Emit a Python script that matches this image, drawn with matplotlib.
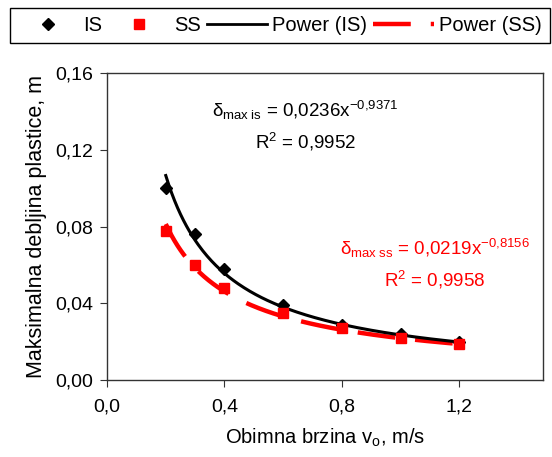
import numpy as np
import matplotlib
matplotlib.use("Agg")
import matplotlib.pyplot as plt
from matplotlib.lines import Line2D

plt.rcParams['font.family'] = ['Liberation Sans', 'DejaVu Sans']
plt.rcParams['mathtext.fontset'] = 'custom'
plt.rcParams['mathtext.rm'] = 'Liberation Sans'
plt.rcParams['mathtext.it'] = 'Liberation Sans'

# measured points
speed = [0.2, 0.3, 0.4, 0.6, 0.8, 1.0, 1.2]
thick_is = [0.100, 0.076, 0.058, 0.039, 0.029, 0.024, 0.020]
thick_ss = [0.078, 0.060, 0.048, 0.035, 0.027, 0.022, 0.019]

# power trendline coefficients (as printed on the chart)
coef_is, exp_is = 0.0236, -0.9371
coef_ss, exp_ss = 0.0219, -0.8156

xtick_vals = [0.0, 0.4, 0.8, 1.2]
ytick_vals = [0.00, 0.04, 0.08, 0.12, 0.16]

RED = '#ff0000'
SS_DASH = (0, (8.5, 4.5))

fig = plt.figure(figsize=(5.52, 4.57), dpi=100)
ax = fig.add_axes([0.194, 0.168, 0.790, 0.672])

xs = np.linspace(min(speed), max(speed), 200)
ax.plot(xs, coef_is * xs ** exp_is, color='black', lw=2.2, zorder=3)
ax.plot(xs, coef_ss * xs ** exp_ss, color=RED, lw=3.2, linestyle=SS_DASH, zorder=2)
ax.plot(speed, thick_is, linestyle='none', marker='D', ms=6.5, color='black', zorder=4)
ax.plot(speed, thick_ss, linestyle='none', marker='s', ms=6.5, color=RED, zorder=4)

ax.set_xlim(0, 1.486)
ax.set_ylim(0, 0.16)
ax.set_xticks(xtick_vals)
ax.set_yticks(ytick_vals)
ax.set_xticklabels([f"{v:.1f}".replace('.', ',') for v in xtick_vals])
ax.set_yticklabels([f"{v:.2f}".replace('.', ',') for v in ytick_vals])
ax.tick_params(direction='out', length=5, labelsize=14, color='#333333')
ax.tick_params(axis='x', pad=8)
ax.tick_params(axis='y', pad=5)
for s in ax.spines.values():
    s.set_color('#333333')
    s.set_linewidth(1.0)

ax.set_xlabel(r'Obimna brzina v$_{\mathrm{o}}$, m/s', fontsize=14.5, labelpad=8)
ax.set_ylabel('Maksimalna debljina plastice, m', fontsize=15.5, labelpad=6)

ax.text(0.675, 0.1407, r'$\delta_{\mathrm{max\ is}}$ = 0,0236x$^{\mathrm{-0{,}9371}}$',
        ha='center', va='center', fontsize=13.5, color='black')
ax.text(0.675, 0.124, r'R$^{2}$ = 0,9952', ha='center', va='center', fontsize=13.5, color='black')
ax.text(1.118, 0.0688, r'$\delta_{\mathrm{max\ ss}}$ = 0,0219x$^{\mathrm{-0{,}8156}}$',
        ha='center', va='center', fontsize=13.5, color=RED)
ax.text(1.118, 0.052, r'R$^{2}$ = 0,9958', ha='center', va='center', fontsize=13.5, color=RED)

handles = [
    Line2D([], [], linestyle='none', marker='D', ms=6.5, color='black'),
    Line2D([], [], linestyle='none', marker='s', ms=6.5, color=RED),
    Line2D([], [], color='black', lw=2),
    Line2D([], [], color=RED, lw=3.2, linestyle=SS_DASH),
]
labels = ['IS', 'SS', 'Power (IS)', 'Power (SS)']
leg = fig.legend(handles, labels, loc='upper left', ncol=4,
                 bbox_to_anchor=(10 / 552, 1 - 8 / 457), fontsize=14.5,
                 frameon=True, fancybox=False, edgecolor='black', framealpha=1,
                 handlelength=3.0, handletextpad=0.25, columnspacing=0.3,
                 borderpad=0.4, borderaxespad=0)
leg.get_frame().set_linewidth(1.0)

fig.savefig('out.png', dpi=100)
